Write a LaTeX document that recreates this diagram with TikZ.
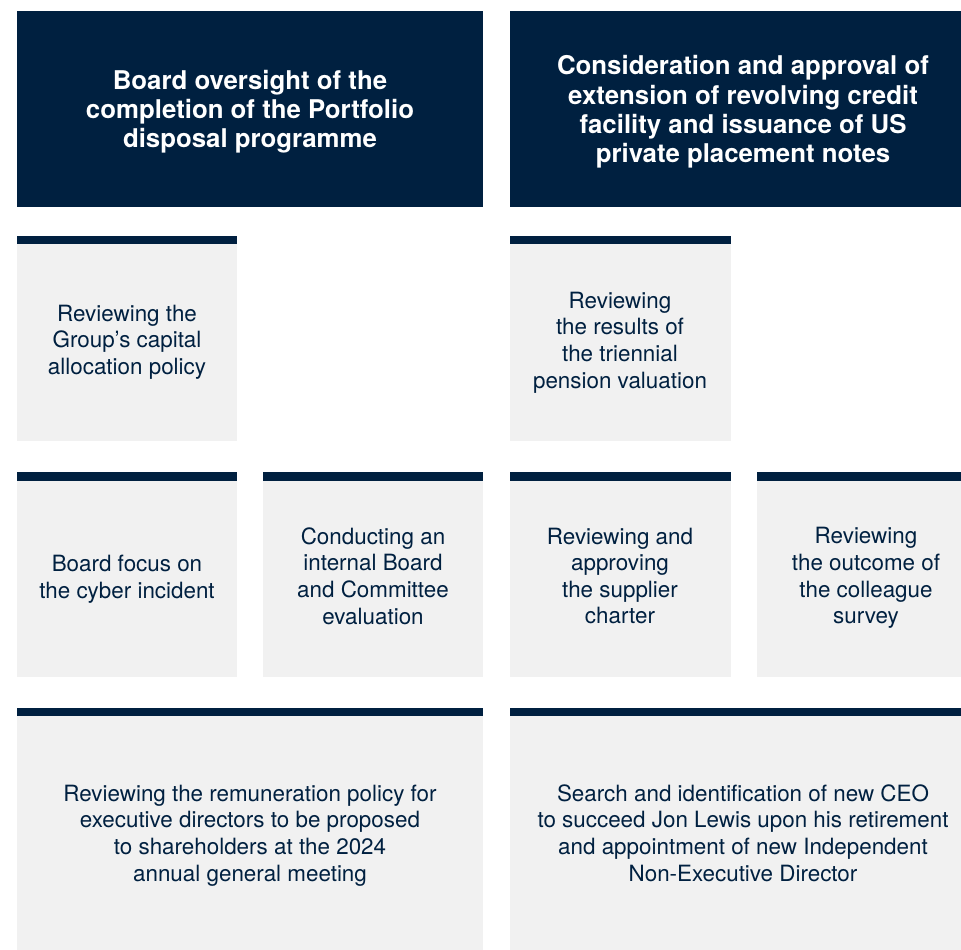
\documentclass[tikz,border=0pt]{standalone}
\usepackage{fontspec}
\setmainfont{TeX Gyre Heros}
\definecolor{navy}{RGB}{0,32,64}
\definecolor{panel}{RGB}{241,241,241}

\tikzset{
  head/.style={fill=navy},
  tile/.style={fill=panel},
  bar/.style={fill=navy},
  headtext/.style={align=center,text=white,inner sep=0pt,
    font=\bfseries\fontsize{25.8}{29.2}\selectfont},
  tiletext/.style={align=center,text=navy,inner sep=0pt,
    font=\fontsize{22.4}{26.6}\selectfont}
}

\begin{document}
\begin{tikzpicture}[x=1pt,y=-1pt]
\useasboundingbox (0,0) rectangle (961,950);
% headings
\fill [head] (17,11) rectangle (483,207);
\node [headtext] (portfolio) at (250,112) {Board oversight of the\\completion of the Portfolio\\disposal programme};
\fill [head] (510,11) rectangle (961,207);
\node [headtext] (credit) at (743,112) {Consideration and approval of\\extension of revolving credit\\facility and issuance of US\\private placement notes};
% second row
\fill [tile] (17,236) rectangle (237,441);
\fill [bar] (17,236) rectangle (237,244);
\node [tiletext] (capital) at (127,342) {Reviewing the\\Group’s capital\\allocation policy};
\fill [tile] (510,236) rectangle (731,441);
\fill [bar] (510,236) rectangle (731,244);
\node [tiletext] (pension) at (620,342.5) {Reviewing\\the results of\\the triennial\\pension valuation};
% third row
\fill [tile] (17,472) rectangle (237,677);
\fill [bar] (17,472) rectangle (237,481);
\node [tiletext] (cyber) at (127,579) {Board focus on\\the cyber incident};
\fill [tile] (263,472) rectangle (483,677);
\fill [bar] (263,472) rectangle (483,481);
\node [tiletext] (evaluation) at (373,576) {Conducting an\\internal Board\\and Committee\\evaluation};
\fill [tile] (510,472) rectangle (731,677);
\fill [bar] (510,472) rectangle (731,481);
\node [tiletext] (supplier) at (620,576) {Reviewing and\\approving\\the supplier\\charter};
\fill [tile] (757,472) rectangle (961,677);
\fill [bar] (757,472) rectangle (961,481);
\node [tiletext] (survey) at (866,578) {Reviewing\\the outcome of\\the colleague\\survey};
% bottom row
\fill [tile] (17,708) rectangle (483,950);
\fill [bar] (17,708) rectangle (483,716);
\node [tiletext] (remuneration) at (250,835.5) {Reviewing the remuneration policy for\\executive directors to be proposed\\to shareholders at the 2024\\annual general meeting};
\fill [tile] (510,708) rectangle (961,950);
\fill [bar] (510,708) rectangle (961,716);
\node [tiletext] (ceo) at (743,833) {Search and identification of new CEO\\to succeed Jon Lewis upon his retirement\\and appointment of new Independent\\Non-Executive Director};
\end{tikzpicture}
\end{document}
